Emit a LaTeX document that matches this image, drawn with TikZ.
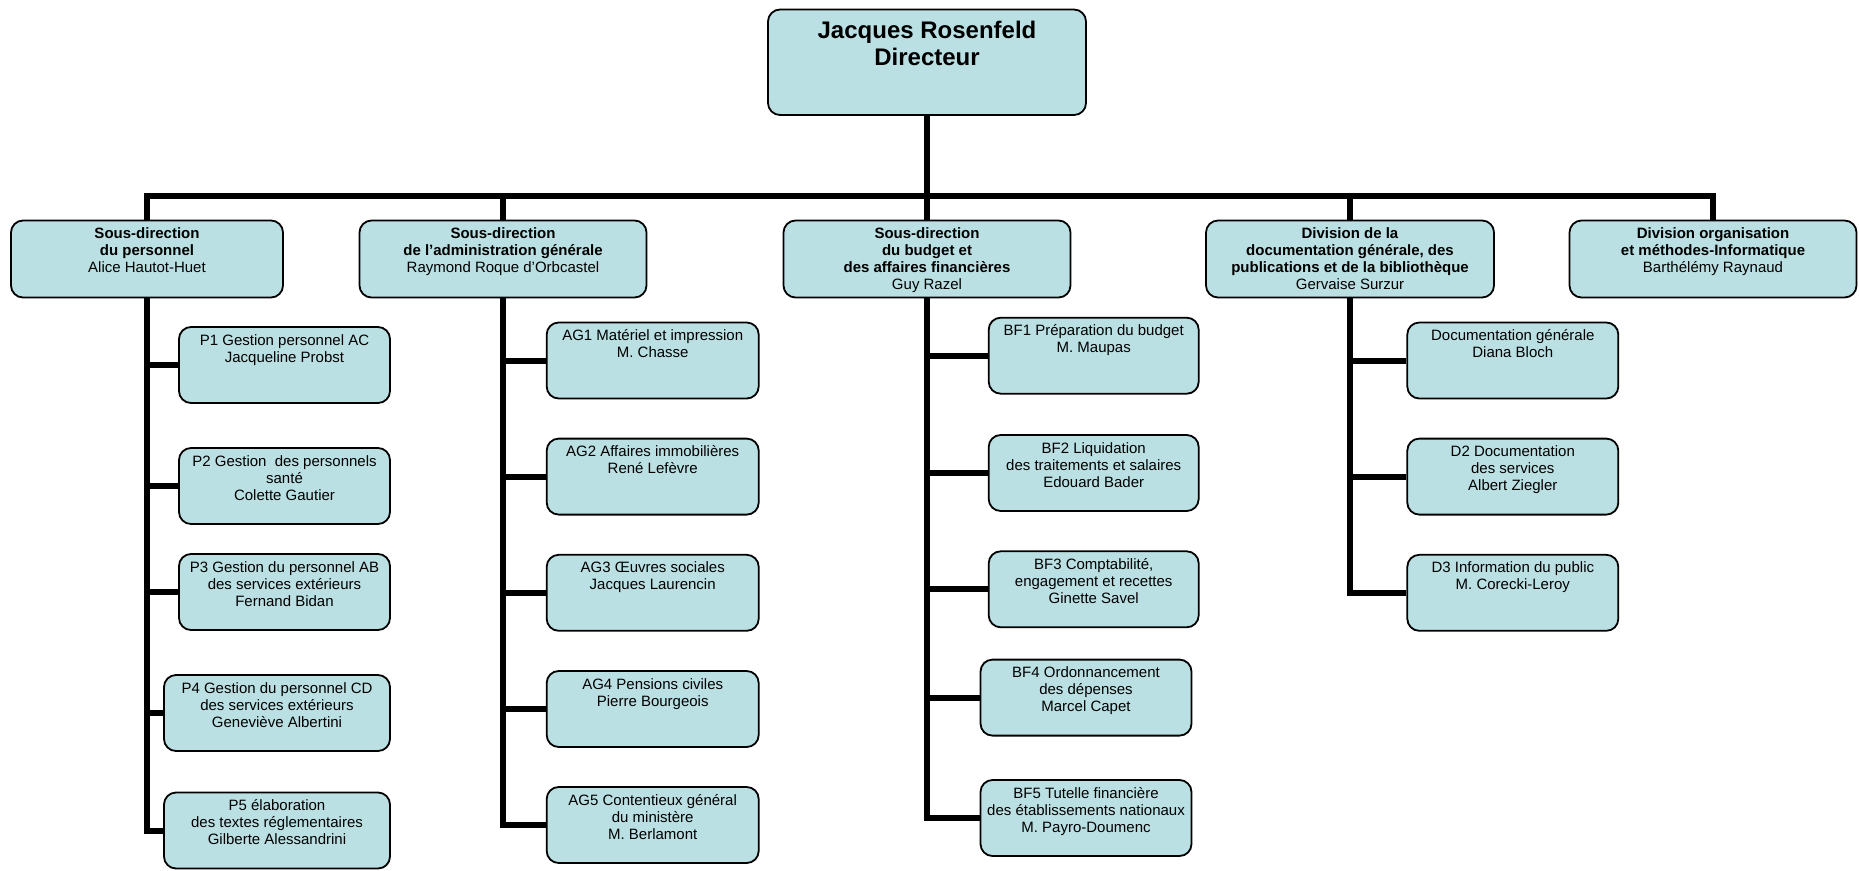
\documentclass[tikz,border=0pt]{standalone}
\usepackage{fontspec}
\setmainfont{Liberation Sans}
\usepackage{tikz}

\definecolor{bleuclair}{RGB}{187,224,227}

% texte cale en haut de la boite : largeur, hauteur, premiere ligne, texte
\newcommand{\boite}[4]{\parbox[c][#2pt][t]{#1pt}{\centering\rule{0pt}{#3pt}#4}}

\begin{document}
\begin{tikzpicture}[
                x=1pt, y=-1pt,
                every node/.style={draw, line width=1.8pt, fill=bleuclair, rounded corners=12pt, inner sep=0pt},
                chef/.style={font=\fontsize{24}{27}\selectfont\bfseries},
                sousdir/.style={font=\fontsize{15}{17}\selectfont},
                bureau/.style={font=\fontsize{15}{17}\selectfont},
                lien/.style={-, line width=6pt}]

            \useasboundingbox (0,0) rectangle (1859,870);

            % Direction
            \node[chef] (dir) at (927,62.25) {\boite{318}{105.5}{29}{Jacques Rosenfeld\\Directeur}};

            % Sous-directions et divisions
            \node[sousdir] (s1) at (147,259) {\boite{272}{77}{18}{\textbf{Sous-direction}\\\textbf{du personnel}\\Alice Hautot-Huet}};
            \node[sousdir] (s2) at (503,259) {\boite{287}{77}{18}{\textbf{Sous-direction}\\\textbf{de l’administration générale}\\Raymond Roque d’Orbcastel}};
            \node[sousdir] (s3) at (927,259) {\boite{287}{77}{18}{\textbf{Sous-direction}\\\textbf{du budget et}\\\textbf{des affaires financières}\\Guy Razel}};
            \node[sousdir] (s4) at (1350,259) {\boite{288}{77}{18}{\textbf{Division de la}\\\textbf{documentation générale, des}\\\textbf{publications et de la bibliothèque}\\Gervaise Surzur}};
            \node[sousdir] (s5) at (1713,259) {\boite{287}{77}{18}{\textbf{Division organisation}\\\textbf{et méthodes-Informatique}\\Barthélémy Raynaud}};

            % Personnel
            \node[bureau] (p1) at (284.5,365) {\boite{211}{76}{18}{P1 Gestion personnel AC\\Jacqueline Probst}};
            \node[bureau] (p2) at (284.5,486) {\boite{211}{76}{18}{P2 Gestion\ \ des personnels\\santé\\Colette Gautier}};
            \node[bureau] (p3) at (284.5,592) {\boite{211}{76}{18}{P3 Gestion du personnel AB\\des services extérieurs\\Fernand Bidan}};
            \node[bureau] (p4) at (277,713) {\boite{226}{76}{18}{P4 Gestion du personnel CD\\des services extérieurs\\Geneviève Albertini}};
            \node[bureau] (p5) at (277,830.5) {\boite{226}{76}{18}{P5 élaboration\\des textes réglementaires\\Gilberte Alessandrini}};

            % Administration generale
            \node[bureau] (ag1) at (652.7,360.5) {\boite{212}{76}{18}{AG1 Matériel et impression\\M. Chasse}};
            \node[bureau] (ag2) at (652.7,476.6) {\boite{212}{76}{18}{AG2 Affaires immobilières\\René Lefèvre}};
            \node[bureau] (ag3) at (652.7,592.8) {\boite{212}{76}{18}{AG3 Œuvres sociales\\Jacques Laurencin}};
            \node[bureau] (ag4) at (652.7,709) {\boite{212}{76}{18}{AG4 Pensions civiles\\Pierre Bourgeois}};
            \node[bureau] (ag5) at (652.7,825) {\boite{212}{76}{18}{AG5 Contentieux général\\du ministère\\M. Berlamont}};

            % Budget
            \node[bureau] (bf1) at (1093.7,355.7) {\boite{210}{76}{18}{BF1 Préparation du budget\\M. Maupas}};
            \node[bureau] (bf2) at (1093.7,473) {\boite{210}{76}{18}{BF2 Liquidation\\des traitements et salaires\\Edouard Bader}};
            \node[bureau] (bf3) at (1093.7,589.3) {\boite{210}{76}{18}{BF3 Comptabilité,\\engagement et recettes\\Ginette Savel}};
            \node[bureau] (bf4) at (1086,697.6) {\boite{211}{76}{18}{BF4 Ordonnancement\\des dépenses\\Marcel Capet}};
            \node[bureau] (bf5) at (1086,818) {\boite{211}{76}{18}{BF5 Tutelle financière\\des établissements nationaux\\M. Payro-Doumenc}};

            % Documentation
            \node[bureau] (d1) at (1512.8,360.5) {\boite{211}{76}{18}{Documentation générale\\Diana Bloch}};
            \node[bureau] (d2) at (1512.8,476.6) {\boite{211}{76}{18}{D2 Documentation\\des services\\Albert Ziegler}};
            \node[bureau] (d3) at (1512.8,592.8) {\boite{211}{76}{18}{D3 Information du public\\M. Corecki-Leroy}};

            % Liens
            \coordinate (bus) at (927,195.6);
            \draw[lien] (dir.south) -- (bus);
            \draw[lien] (s1.north) |- (bus) -| (s5.north);
            \foreach \s in {s2,s3,s4}
                \draw[lien] (\s.north) -- (\s.north |- bus);

            \draw[lien] (s1.south) |- (p5.west);
            \foreach \b in {p1,p2,p3,p4}
                \draw[lien] (s1.south |- \b.west) -- (\b.west);

            \draw[lien] (s2.south) |- (ag5.west);
            \foreach \b in {ag1,ag2,ag3,ag4}
                \draw[lien] (s2.south |- \b.west) -- (\b.west);

            \draw[lien] (s3.south) |- (bf5.west);
            \foreach \b in {bf1,bf2,bf3,bf4}
                \draw[lien] (s3.south |- \b.west) -- (\b.west);

            \draw[lien] (s4.south) |- (d3.west);
            \foreach \b in {d1,d2}
                \draw[lien] (s4.south |- \b.west) -- (\b.west);

        \end{tikzpicture}
\end{document}
